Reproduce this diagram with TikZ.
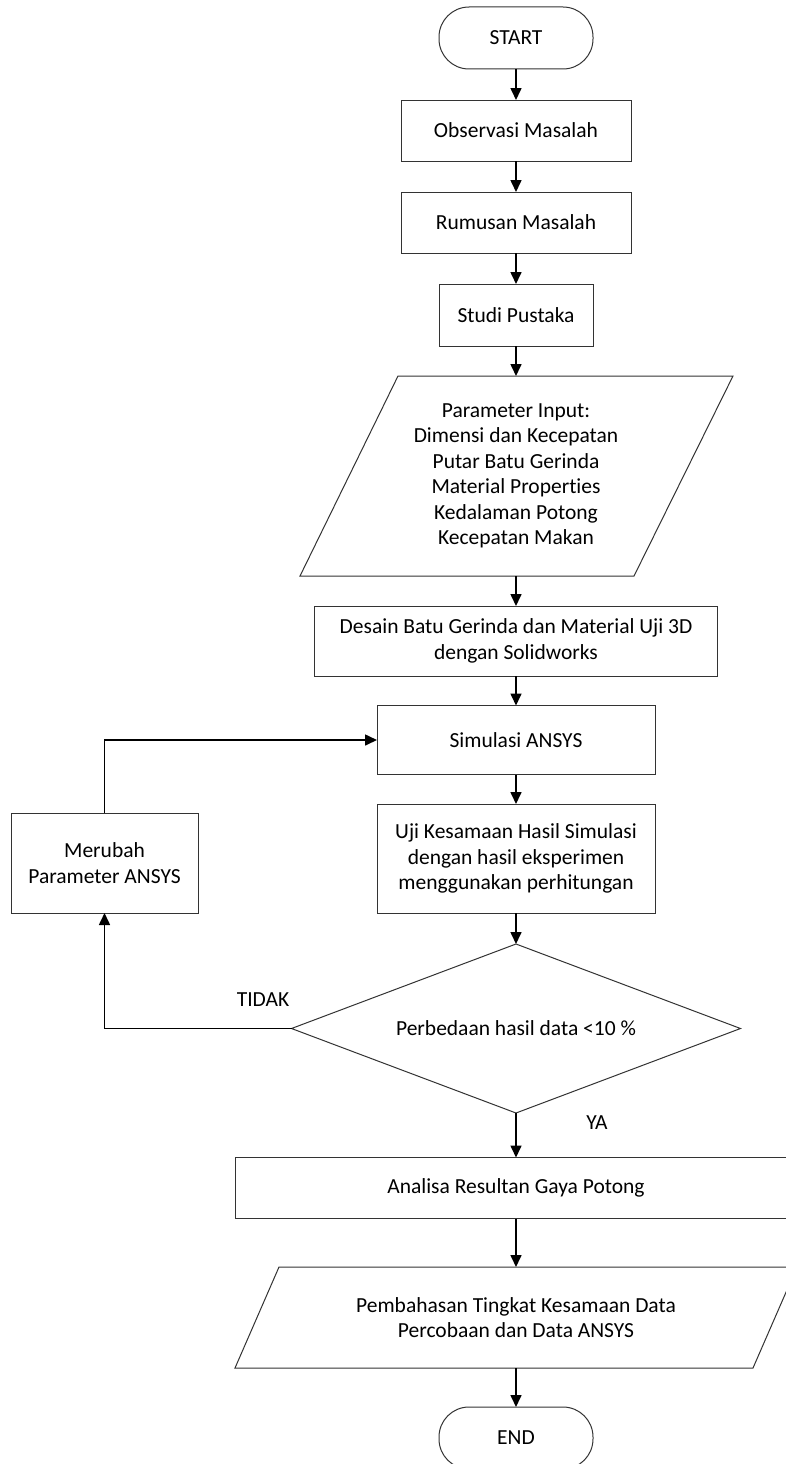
\documentclass[tikz,border=0pt]{standalone}
\usepackage{fontspec}
\setmainfont{Carlito}[Ligatures=NoCommon]
\usetikzlibrary{arrows.meta,shapes.geometric}

\begin{document}
\begin{tikzpicture}[x=1pt,y=-1pt,
  every node/.style={font=\fontsize{21.5}{25.5}\selectfont,inner sep=0pt,outer sep=0pt,align=center},
  garis/.style={draw=black!80,line width=1pt},
  proses/.style={garis,rectangle},
  terminal/.style={garis,rectangle,rounded corners=30pt,minimum width=154pt,minimum height=62pt},
  keputusan/.style={garis,diamond,aspect=2.66,minimum width=449pt,minimum height=169pt},
  alur/.style={-{Triangle[length=12pt,width=11pt]},line width=1.6pt}]
\path[use as bounding box] (0,0) rectangle (786,1464);
\path[fill=white,draw=none] (0,0) rectangle (786,1464);

% main column
\node[terminal] (start) at (516,38) {START};
\node[proses,minimum width=230pt,minimum height=61pt] (observasi) at (516,130.5) {Observasi Masalah};
\node[proses,minimum width=230pt,minimum height=61pt] (rumusan) at (516,222.5) {Rumusan Masalah};
\node[proses,minimum width=154pt,minimum height=62pt] (studi) at (516,315) {Studi Pustaka};
\node[minimum height=200pt] (input) at (516,476) {Parameter Input:\\Dimensi dan Kecepatan\\Putar Batu Gerinda\\Material Properties\\Kedalaman Potong\\Kecepatan Makan};
\draw[garis] ([xshift=-118pt]input.north) -- ([xshift=217pt]input.north) -- ([xshift=118pt]input.south) -- ([xshift=-216pt]input.south) -- cycle;
\node[proses,minimum width=403pt,minimum height=70pt] (desain) at (516,641) {Desain Batu Gerinda dan Material Uji 3D\\dengan Solidworks};
\node[proses,minimum width=278pt,minimum height=69pt] (simulasi) at (516,740) {Simulasi ANSYS};
\node[proses,minimum width=278pt,minimum height=109pt] (uji) at (516,858.5) {Uji Kesamaan Hasil Simulasi\\dengan hasil eksperimen\\menggunakan perhitungan};
\node[keputusan] (cek) at (516,1028.5) {Perbedaan hasil data <10 \%};
\node[proses,minimum width=562pt,minimum height=61pt] (analisa) at (516,1188) {Analisa Resultan Gaya Potong};
\node[minimum height=101pt] (bahas) at (516,1317.5) {Pembahasan Tingkat Kesamaan Data\\Percobaan dan Data ANSYS};
\draw[garis] ([xshift=-237pt]bahas.north) -- ([xshift=281pt]bahas.north) -- ([xshift=237pt]bahas.south) -- ([xshift=-281pt]bahas.south) -- cycle;
\node[terminal] (end) at (516,1438) {END};

% loop back
\node[proses,minimum width=187pt,minimum height=100pt] (merubah) at (104.5,863) {Merubah\\Parameter ANSYS};
\node (tidak) at (263,1000) {TIDAK};
\node (ya) at (597,1123) {YA};

\draw[alur] (start) -- (observasi);
\draw[alur] (observasi) -- (rumusan);
\draw[alur] (rumusan) -- (studi);
\draw[alur] (studi) -- (input);
\draw[alur] (input) -- (desain);
\draw[alur] (desain) -- (simulasi);
\draw[alur] (simulasi) -- (uji);
\draw[alur] (uji) -- (cek);
\draw[alur] (cek) -- (analisa);
\draw[alur] (analisa) -- (bahas);
\draw[alur] (bahas) -- (end);
\draw[alur] (cek.west) -| (merubah.south);
\draw[alur] (merubah.north) |- (simulasi.west);
\end{tikzpicture}
\end{document}
